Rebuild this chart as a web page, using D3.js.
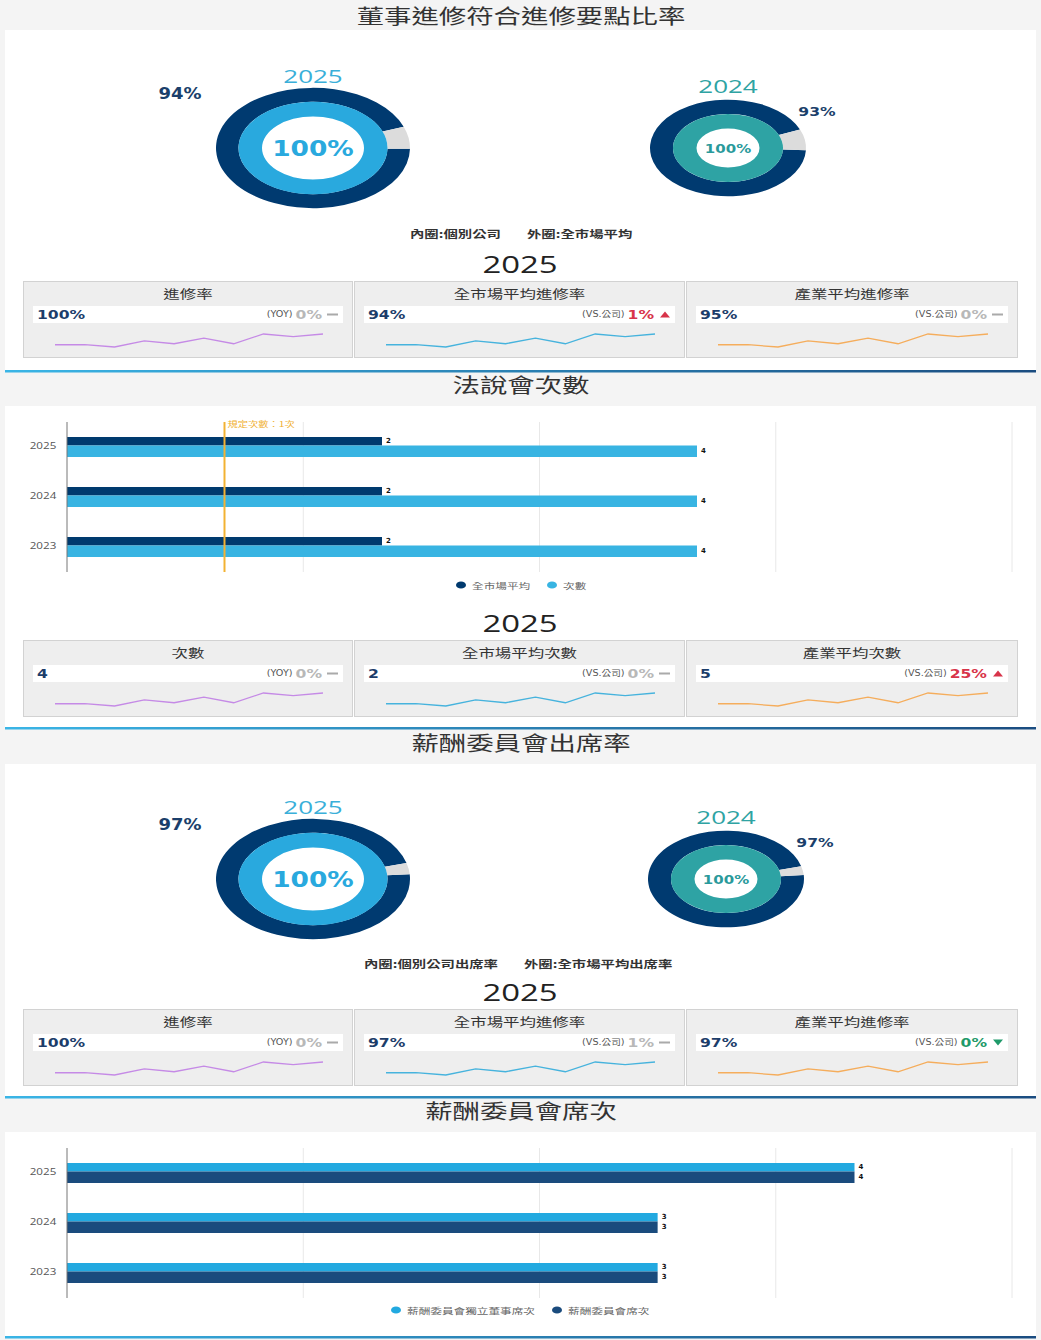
<!DOCTYPE html>
<html><head><meta charset="utf-8">
<script src="https://cdn.jsdelivr.net/npm/d3@7"></script>
<style>body{margin:0;background:#f4f4f4;}svg{display:block}</style>
</head><body><svg id="c" width="1041" height="1340"></svg>
<script>
// ---------- DATA ----------
const sectionTitles = ["董事進修符合進修要點比率", "法說會次數", "薪酬委員會出席率", "薪酬委員會席次"];
const donutYears = ["2025", "2024"];
const trainInner = [100, 100];      // 內圈: 個別公司
const trainOuter = [94, 93];        // 外圈: 全市場平均
const attendInner = [100, 100];     // 內圈: 個別公司出席率
const attendOuter = [97, 97];       // 外圈: 全市場平均出席率
const headlineYear = "2025";

const cards1Titles = ["進修率", "全市場平均進修率", "產業平均進修率"];
const cards1Values = ["100%", "94%", "95%"];
const cards1CmpLabels = ["(YOY)", "(VS.公司)", "(VS.公司)"];
const cards1Changes = ["0%", "1%", "0%"];
const cards1Dirs = ["flat", "up", "flat"];

const cards2Titles = ["次數", "全市場平均次數", "產業平均次數"];
const cards2Values = ["4", "2", "5"];
const cards2CmpLabels = ["(YOY)", "(VS.公司)", "(VS.公司)"];
const cards2Changes = ["0%", "0%", "25%"];
const cards2Dirs = ["flat", "flat", "up"];

const cards3Titles = ["進修率", "全市場平均進修率", "產業平均進修率"];
const cards3Values = ["100%", "97%", "97%"];
const cards3CmpLabels = ["(YOY)", "(VS.公司)", "(VS.公司)"];
const cards3Changes = ["0%", "1%", "0%"];
const cards3Dirs = ["flat", "flat", "down"];

const trendCompany = [1.4, 1.4, 0, 3.8, 2, 5.5, 2, 8, 6.4, 8];
const trendMarket  = [1.4, 1.4, 0, 3.8, 2, 5.5, 2, 8, 6.4, 8];
const trendIndustry= [1.4, 1.4, 0, 3.8, 2, 5.5, 2, 8, 6.4, 8];

const briefCats = ["2025", "2024", "2023"];
const briefMarket = [2, 2, 2];
const briefCount = [4, 4, 4];
const briefRequired = 1;
const briefSeriesNames = ["全市場平均", "次數"];
const briefRequiredLabel = "規定次數：1次";

const seatCats = ["2025", "2024", "2023"];
const seatIndependent = [4, 3, 3];
const seatTotal = [4, 3, 3];
const seatSeriesNames = ["薪酬委員會獨立董事席次", "薪酬委員會席次"];

// ---------- STYLE ----------
const SX = 1.37, SXB = 1.2, ELL = 0.62;
const CJK = "'Noto Sans CJK TC','Noto Sans',sans-serif";
const LAT = "'Open Sans','Noto Sans CJK TC',sans-serif";
const BOLD = "'DejaVu Sans','Noto Sans CJK TC',sans-serif";
const NAVY = "#003a70", LBLUE = "#29a9de", TEAL = "#2ea3a4";
const svg = d3.select("#c");

function txt(g, x, y, s, o = {}) {
  return g.append("text")
    .attr("transform", `translate(${x},${y}) scale(${o.sx || SX},1)`)
    .attr("text-anchor", o.anchor || "middle")
    .attr("dominant-baseline", "central")
    .attr("font-size", o.size || 12)
    .attr("font-family", o.family || CJK)
    .attr("font-weight", o.weight || "normal")
    .attr("fill", o.fill || "#333")
    .text(s);
}

// ---------- SECTIONS ----------
const defs = svg.append("defs");
const lg = defs.append("linearGradient").attr("id", "lg").attr("gradientUnits", "userSpaceOnUse")
  .attr("x1", 5).attr("x2", 1036).attr("y1", 0).attr("y2", 0);
lg.append("stop").attr("offset", 0).attr("stop-color", "#3ab5e6");
lg.append("stop").attr("offset", 1).attr("stop-color", "#1a4c80");

const sections = [
  {titleY: 15, top: 30, bot: 370},
  {titleY: 384, top: 406, bot: 727},
  {titleY: 742, top: 764, bot: 1096},
  {titleY: 1110, top: 1132, bot: 1336}
];
sections.forEach((s, i) => {
  svg.append("rect").attr("x", 5).attr("y", s.top).attr("width", 1031).attr("height", s.bot - s.top).attr("fill", "#fff");
  svg.append("rect").attr("x", 5).attr("y", s.bot).attr("width", 1031).attr("height", 2.5).attr("fill", "url(#lg)");
  txt(svg, 521, s.titleY, sectionTitles[i], {size: 20, fill: "#333"});
});

// ---------- DONUTS ----------
const GAP_C = 80 * Math.PI / 180;
const ang = d3.scaleLinear().domain([0, 100]).range([0, 2 * Math.PI]);
function donut(cx, cy, R, rMid, rHole, outerVal, innerVal, innerColor) {
  const g = svg.append("g").attr("transform", `translate(${cx},${cy}) scale(1,${ELL})`);
  const arcO = d3.arc().innerRadius(rMid).outerRadius(R);
  const start = GAP_C + ang(100 - outerVal) / 2;
  g.append("path").attr("d", arcO({startAngle: start, endAngle: start + ang(outerVal)})).attr("fill", NAVY);
  g.append("path").attr("d", arcO({startAngle: start + ang(outerVal), endAngle: start + ang(100)})).attr("fill", "#dcdcdc");
  const arcI = d3.arc().innerRadius(rHole).outerRadius(rMid);
  g.append("path").attr("d", arcI({startAngle: 0, endAngle: ang(innerVal)})).attr("fill", innerColor);
  if (innerVal < 100) g.append("path").attr("d", arcI({startAngle: ang(innerVal), endAngle: ang(100)})).attr("fill", "#dcdcdc");
}
function donutPair(cy, inner, outer, yOff) {
  donut(313, cy, 97, 74.5, 51, outer[0], inner[0], LBLUE);
  txt(svg, 313, cy - 72, donutYears[0], {size: 19, family: LAT, fill: "#3aafd9"});
  txt(svg, 313, cy, inner[0] + "%", {size: 22, family: BOLD, weight: "bold", fill: LBLUE, sx: SXB});
  txt(svg, 180, cy - 54, outer[0] + "%", {size: 15, family: BOLD, weight: "bold", fill: "#1b3f6b", sx: SXB});
  donut(yOff, cy, 78, 55, 31.5, outer[1], inner[1], TEAL);
  txt(svg, yOff, cy - 62, donutYears[1], {size: 19, family: LAT, fill: "#2fa3a3"});
  txt(svg, yOff, cy, inner[1] + "%", {size: 12.5, family: BOLD, weight: "bold", fill: "#2a9a9b", sx: SXB});
  txt(svg, yOff + 89, cy - 37, outer[1] + "%", {size: 13, family: BOLD, weight: "bold", fill: "#1b3f6b", sx: SXB});
}
donutPair(148, trainInner, trainOuter, 728);
txt(svg, 410, 233, "內圈:個別公司", {anchor: "start", size: 10.5, weight: "bold", fill: "#333"});
txt(svg, 527, 233, "外圈:全市場平均", {anchor: "start", size: 10.5, weight: "bold", fill: "#333"});

donutPair(879, attendInner, attendOuter, 726);
txt(svg, 364, 963, "內圈:個別公司出席率", {anchor: "start", size: 10.5, weight: "bold", fill: "#333"});
txt(svg, 524, 963, "外圈:全市場平均出席率", {anchor: "start", size: 10.5, weight: "bold", fill: "#333"});

// ---------- CARDS ----------
const cardX = [23, 354, 686], cardW = [330, 331, 332];
const trendColors = ["#c58ae6", "#46b3dd", "#f5ad5c"];
const trends = [trendCompany, trendMarket, trendIndustry];
function cardRow(top, titles, values, labels, changes, dirs) {
  txt(svg, 520, top - 18, headlineYear, {size: 24, family: LAT, fill: "#222"});
  for (let i = 0; i < 3; i++) {
    const x0 = cardX[i], w = cardW[i], g = svg.append("g");
    g.append("rect").attr("x", x0 + 0.5).attr("y", top + 0.5).attr("width", w - 1).attr("height", 76)
      .attr("fill", "#eeeeee").attr("stroke", "#d2d2d2");
    txt(g, x0 + w / 2, top + 13, titles[i], {size: 12, fill: "#333"});
    const sl = x0 + 10, sr = x0 + w - 10, sy = top + 25;
    g.append("rect").attr("x", sl).attr("y", sy).attr("width", sr - sl).attr("height", 17).attr("fill", "#fff");
    txt(g, sl + 4, sy + 8.5, values[i], {anchor: "start", size: 13, family: BOLD, weight: "bold", fill: "#1c3d6a", sx: SXB});
    const col = dirs[i] === "up" ? "#d8344a" : dirs[i] === "down" ? "#1f9a6a" : "#b8b8b8";
    const t = g.append("text")
      .attr("transform", `translate(${sr - 21},${sy + 8.5}) scale(${SXB},1)`)
      .attr("text-anchor", "end").attr("dominant-baseline", "central").attr("font-family", BOLD);
    t.append("tspan").attr("font-size", 8).attr("fill", "#555").text(labels[i] + " ");
    t.append("tspan").attr("font-size", 13).attr("font-weight", "bold").attr("fill", col).text(changes[i]);
    const cy = sy + 8.5;
    if (dirs[i] === "flat") g.append("rect").attr("x", sr - 16).attr("y", cy - 1).attr("width", 11).attr("height", 2).attr("fill", "#aaa");
    else if (dirs[i] === "up") g.append("path").attr("d", `M${sr - 15},${cy + 3}L${sr - 10},${cy - 3}L${sr - 5},${cy + 3}Z`).attr("fill", col);
    else g.append("path").attr("d", `M${sr - 15},${cy - 3}L${sr - 10},${cy + 3}L${sr - 5},${cy - 3}Z`).attr("fill", col);
    const xs = d3.scaleLinear().domain([0, 9]).range([x0 + 32, x0 + w - 30]);
    const ys = d3.scaleLinear().domain([0, 8]).range([top + 66, top + 53]);
    g.append("path").attr("d", d3.line().x((d, j) => xs(j)).y(d => ys(d))(trends[i]))
      .attr("fill", "none").attr("stroke", trendColors[i]).attr("stroke-width", 1.3);
  }
}
cardRow(281, cards1Titles, cards1Values, cards1CmpLabels, cards1Changes, cards1Dirs);
cardRow(640, cards2Titles, cards2Values, cards2CmpLabels, cards2Changes, cards2Dirs);
cardRow(1009, cards3Titles, cards3Values, cards3CmpLabels, cards3Changes, cards3Dirs);

// ---------- BAR CHARTS ----------
function barChart(cfg) {
  const g = svg.append("g");
  const x = d3.scaleLinear().domain([0, cfg.max]).range([67, 1012]);
  const y = d3.scaleBand().domain(cfg.cats).range([cfg.top, cfg.top + 150]);
  d3.range(cfg.step, cfg.max + 1e-6, cfg.step).forEach(v => {
    g.append("line").attr("x1", x(v)).attr("x2", x(v)).attr("y1", cfg.top + 1).attr("y2", cfg.top + 151)
      .attr("stroke", "#e8e8e8").attr("stroke-width", 1);
  });
  const offs = [{dy: -9, h: 8.5}, {dy: -0.5, h: 11.5}];
  cfg.series.forEach((s, si) => {
    cfg.cats.forEach((c, ci) => {
      const cy = y(c) + y.bandwidth() / 2;
      const yy = cy + offs[si].dy;
      g.append("rect").attr("x", x(0)).attr("y", yy).attr("width", x(s.vals[ci]) - x(0)).attr("height", offs[si].h)
        .attr("fill", s.color);
      g.append("text").attr("x", x(s.vals[ci]) + 4).attr("y", yy + offs[si].h / 2)
        .attr("dominant-baseline", "central").attr("font-size", 7).attr("font-weight", "bold")
        .attr("font-family", BOLD).attr("fill", "#111").text(s.vals[ci]);
    });
  });
  g.append("line").attr("x1", x(0)).attr("x2", x(0)).attr("y1", cfg.top + 1).attr("y2", cfg.top + 151)
    .attr("stroke", "#777").attr("stroke-width", 1);
  cfg.cats.forEach(c => txt(g, 43, y(c) + y.bandwidth() / 2, c, {size: 8.5, family: LAT, fill: "#555"}));
  if (cfg.required != null) {
    g.append("line").attr("x1", x(cfg.required)).attr("x2", x(cfg.required)).attr("y1", cfg.top + 1).attr("y2", cfg.top + 151)
      .attr("stroke", "#f2b233").attr("stroke-width", 2);
    txt(g, x(cfg.required) + 3, cfg.top + 3, cfg.requiredLabel, {anchor: "start", size: 7.5, fill: "#f0b030"});
  }
  cfg.legend.forEach((l, i) => {
    g.append("ellipse").attr("cx", l.dot).attr("cy", cfg.legendY).attr("rx", 5).attr("ry", 3.6).attr("fill", cfg.series[i].color);
    txt(g, l.dot + 11, cfg.legendY, cfg.series[i].name, {anchor: "start", size: 8.5, fill: "#666"});
  });
}
barChart({
  top: 421, cats: briefCats, max: 6, step: 1.5,
  series: [{vals: briefMarket, color: "#003a6e", name: briefSeriesNames[0]},
           {vals: briefCount, color: "#38b4e2", name: briefSeriesNames[1]}],
  required: briefRequired, requiredLabel: briefRequiredLabel,
  legendY: 585, legend: [{dot: 461}, {dot: 552}]
});
barChart({
  top: 1147, cats: seatCats, max: 4.8, step: 1.2,
  series: [{vals: seatIndependent, color: "#22a9e0", name: seatSeriesNames[0]},
           {vals: seatTotal, color: "#1a4b7d", name: seatSeriesNames[1]}],
  legendY: 1310, legend: [{dot: 396}, {dot: 557}]
});
</script></body></html>
